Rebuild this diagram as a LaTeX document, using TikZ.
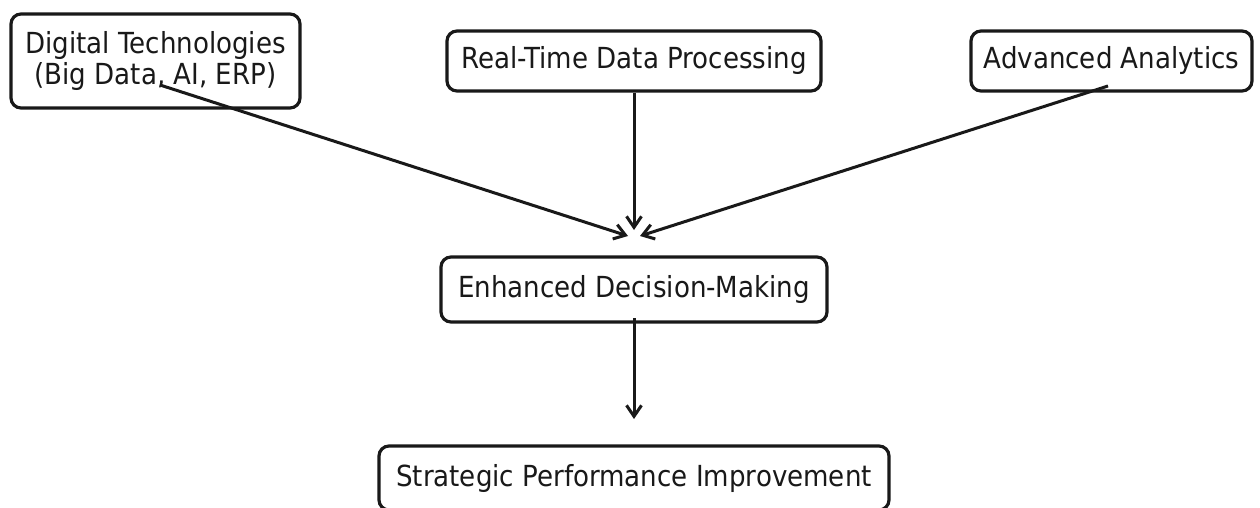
\documentclass[tikz,border=0pt]{standalone}
\usepackage{fontspec}
\setmainfont[FakeStretch=0.9]{DejaVu Sans}
\usetikzlibrary{arrows.meta}
\begin{document}
\begin{tikzpicture}[x=1pt,y=-1pt,
  box/.style={draw=black!90, line width=3.2pt, rounded corners=10pt, fill=white,
    inner sep=0pt, align=center, text=black!90,
    font=\fontsize{29}{32}\selectfont},
  link/.style={draw=black!90, line width=3pt,
    -{Straight Barb[length=11pt,width=15pt,line width=3pt]}}]
  \useasboundingbox (0,0) rectangle (1260,508);

  % boxes
  \node[box, minimum width=289pt, minimum height=94pt] (dig) at (155.5,61)
    {Digital Technologies\\(Big Data, AI, ERP)};
  \node[box, minimum width=374pt, minimum height=60pt] (rt) at (634,61)
    {Real-Time Data Processing};
  \node[box, minimum width=281pt, minimum height=60pt] (adv) at (1111.5,61)
    {Advanced Analytics};
  \node[box, minimum width=386pt, minimum height=65pt] (enh) at (634,289.5)
    {Enhanced Decision-Making};
  \node[box, minimum width=510pt, minimum height=64pt] (str) at (634,478)
    {Strategic Performance Improvement};

  % arrow ends
  \coordinate (digout) at (160,85);
  \coordinate (advout) at (1108,86);
  \coordinate (hubL) at (628,236);
  \coordinate (hubM) at (634,230);
  \coordinate (hubR) at (640,236);
  \coordinate (enhout) at (634,318);
  \coordinate (strin) at (634,419);

  % connectors
  \draw[link] (digout) -- (hubL);
  \draw[link] (rt.south) -- (hubM);
  \draw[link] (advout) -- (hubR);
  \draw[link] (enhout) -- (strin);
\end{tikzpicture}
\end{document}
